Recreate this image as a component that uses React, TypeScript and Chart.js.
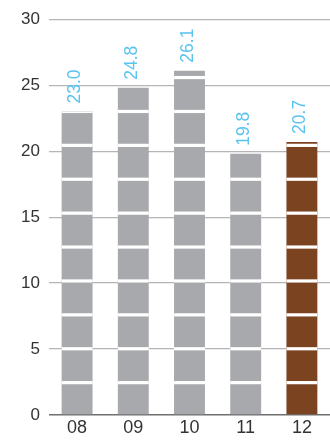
import React, { useEffect, useRef } from "react";
import { Chart, registerables } from "chart.js";

Chart.register(...registerables);

const categories = ["08", "09", "10", "11", "12"];
const values = [23.0, 24.8, 26.1, 19.8, 20.7];
const labels = ["23.0", "24.8", "26.1", "19.8", "20.7"];
const yTicks = [0, 5, 10, 15, 20, 25, 30];

const GREY = "#A7A9AC";
const BROWN = "#7B4320";
const BLUE = "#5BC3F0";
const FONT = "'Liberation Sans', Arial, sans-serif";

const stripes = {
  id: "stripes",
  afterDatasetsDraw(chart: any) {
    const ctx = chart.ctx;
    const meta = chart.getDatasetMeta(0);
    ctx.save();
    ctx.fillStyle = "#ffffff";
    meta.data.forEach((bar: any) => {
      const { x, y, base, width } = bar.getProps(["x", "y", "base", "width"], true);
      for (let k = 1; k < 30; k++) {
        const gb = base - 30 - (k - 1) * 33.9;
        const gt = gb - 3.2;
        if (gb <= y) break;
        const top = Math.max(gt, y);
        ctx.fillRect(x - width / 2, top, width, gb - top);
      }
    });
    ctx.restore();
  },
};

const valueLabels = {
  id: "valueLabels",
  afterDatasetsDraw(chart: any) {
    const ctx = chart.ctx;
    const meta = chart.getDatasetMeta(0);
    ctx.save();
    ctx.fillStyle = BLUE;
    ctx.font = `17.5px ${FONT}`;
    ctx.textAlign = "left";
    ctx.textBaseline = "middle";
    meta.data.forEach((bar: any, i: number) => {
      const { x, y } = bar.getProps(["x", "y"], true);
      ctx.save();
      ctx.translate(x - 1.5, y - 8);
      ctx.rotate(-Math.PI / 2);
      ctx.fillText(labels[i], 0, 0);
      ctx.restore();
    });
    ctx.restore();
  },
};

function BarChart() {
  const ref = useRef<HTMLCanvasElement>(null);
  useEffect(() => {
    if (!ref.current) return;
    const chart = new Chart(ref.current, {
      type: "bar",
      data: {
        labels: categories,
        datasets: [
          {
            data: values,
            backgroundColor: values.map((_, i) => (i === values.length - 1 ? BROWN : GREY)),
            barPercentage: 0.55,
            categoryPercentage: 1,
          },
        ],
      },
      options: {
        responsive: false,
        animation: false,
        devicePixelRatio: 1,
        layout: { padding: { top: 9, right: 0, left: 0, bottom: 0 } },
        plugins: { legend: { display: false }, tooltip: { enabled: false } },
        scales: {
          x: {
            afterFit: (s: any) => {
              s.height = 28;
            },
            grid: { display: false, drawTicks: false },
            border: { display: false },
            ticks: { color: "#333333", font: { family: FONT, size: 18 }, padding: 2 },
          },
          y: {
            min: 0,
            max: 30,
            afterBuildTicks: (s: any) => {
              s.ticks = yTicks.map((v) => ({ value: v }));
            },
            afterFit: (s: any) => {
              s.width = 49;
            },
            grid: {
              drawTicks: false,
              color: (c: any) => (c.tick && c.tick.value === 0 ? "#6f6f6f" : "#b5b5b5"),
              lineWidth: (c: any) => (c.tick && c.tick.value === 0 ? 1.5 : 1.2),
            },
            border: { display: false },
            ticks: { color: "#333333", font: { family: FONT, size: 17 }, padding: 9 },
          },
        },
      },
      plugins: [stripes, valueLabels],
    });
    return () => chart.destroy();
  }, []);
  return <canvas ref={ref} width={330} height={443} style={{ display: "block" }} />;
}

export default function App() {
  return (
    <div style={{ position: "absolute", left: 0, top: 0, width: 330, height: 443, background: "#fff" }}>
      <BarChart />
    </div>
  );
}
